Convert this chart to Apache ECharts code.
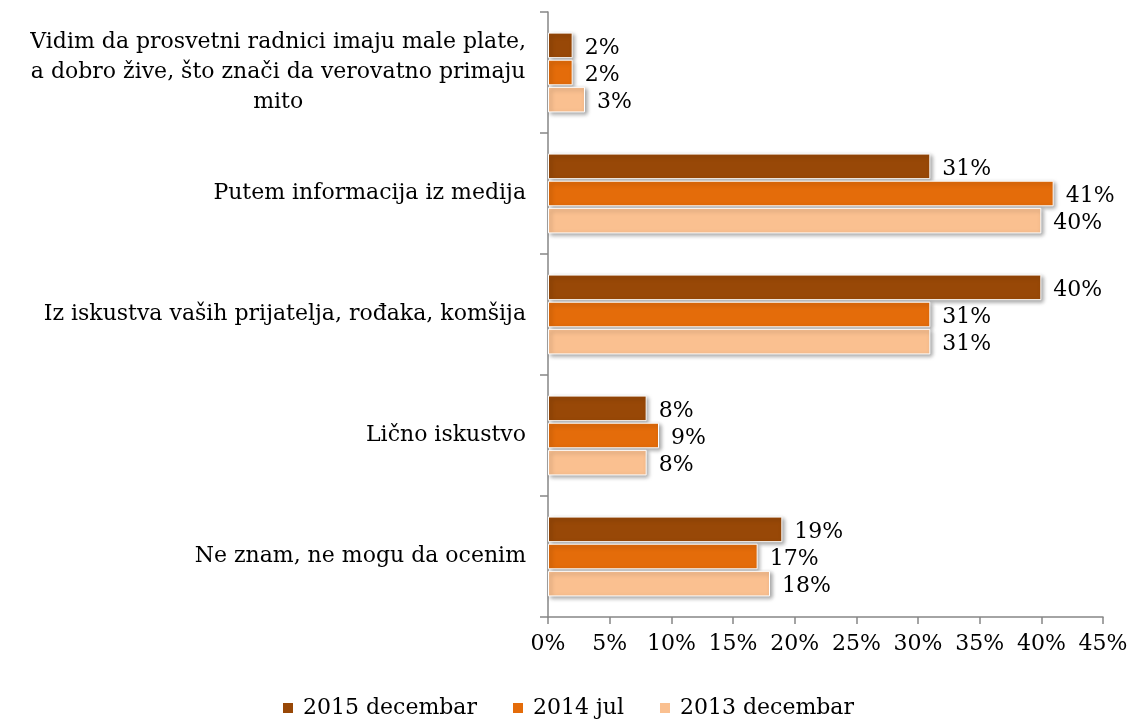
<!DOCTYPE html>
<html>
<head>
<meta charset="utf-8">
<script src="https://cdn.jsdelivr.net/npm/echarts@6/dist/echarts.min.js"></script>
<style>
  html, body { margin: 0; padding: 0; background: #fff; }
  #chart { width: 1135px; height: 722px; }
</style>
</head>
<body>
<div id="chart"></div>
<script>
// kategorije (odozgo na dole)
const categories = [
    'Vidim da prosvetni radnici imaju male plate,\na dobro žive, što znači da verovatno primaju\nmito',
    'Putem informacija iz medija',
    'Iz iskustva vaših prijatelja, rođaka, komšija',
    'Lično iskustvo',
    'Ne znam, ne mogu da ocenim'
];
const seriesNames = ['2015 decembar', '2014 jul', '2013 decembar'];
const dec2015 = [2, 31, 40, 8, 19];
const jul2014 = [2, 41, 31, 9, 17];
const dec2013 = [3, 40, 31, 8, 18];
const xTicks = [0, 5, 10, 15, 20, 25, 30, 35, 40, 45];

const colors = ['#984807', '#E46C0A', '#FAC090'];
const fontFamily = '"DejaVu Serif", serif';
const fs = 22;

const chart = echarts.init(document.getElementById('chart'));

const makeSeries = (name, data, color) => ({
    name,
    type: 'bar',
    data,
    barGap: '6%',
    barCategoryGap: '34%',
    itemStyle: {
        color,
        borderColor: '#fff',
        borderWidth: 1,
        shadowBlur: 4,
        shadowColor: 'rgba(0,0,0,0.35)',
        shadowOffsetX: 2,
        shadowOffsetY: 2
    },
    label: {
        show: true,
        position: 'right',
        distance: 12,
        offset: [0, 3],
        formatter: '{c}%',
        color: '#000',
        fontFamily,
        fontSize: fs
    }
});

const option = {
    animation: false,
    grid: { left: 548, right: 32, top: 12, bottom: 105, containLabel: false },
    legend: {
        bottom: -2,
        left: 'center',
        itemWidth: 12,
        itemHeight: 12,
        itemGap: 34,
        icon: 'rect',
        textStyle: { fontFamily, fontSize: fs, color: '#000', padding: [0, 0, 0, 4] },
        data: seriesNames
    },
    xAxis: {
        type: 'value',
        min: xTicks[0],
        max: xTicks[xTicks.length - 1],
        interval: 5,
        splitLine: { show: false },
        axisLine: { show: true, lineStyle: { color: '#868686', width: 1.5 } },
        axisTick: { show: true, length: 7, lineStyle: { color: '#868686', width: 1.5 } },
        axisLabel: {
            formatter: '{value}%',
            color: '#000',
            fontFamily,
            fontSize: fs,
            margin: 16
        }
    },
    yAxis: {
        type: 'category',
        inverse: true,
        data: categories,
        axisLine: { show: true, lineStyle: { color: '#868686', width: 1.5 } },
        axisTick: { show: true, length: 8, lineStyle: { color: '#868686', width: 1.5 } },
        axisLabel: {
            color: '#000',
            fontFamily,
            fontSize: fs,
            margin: 22,
            lineHeight: 30,
            formatter: (v) => {
                if (v.indexOf('\n') < 0) return v;
                return v.split('\n').map(s => '{c|' + s + '}').join('\n');
            },
            rich: {
                c: { align: 'center', fontFamily, fontSize: fs, color: '#000', lineHeight: 30 }
            }
        }
    },
    series: [
        makeSeries(seriesNames[0], dec2015, colors[0]),
        makeSeries(seriesNames[1], jul2014, colors[1]),
        makeSeries(seriesNames[2], dec2013, colors[2])
    ]
};

chart.setOption(option);
</script>
</body>
</html>
